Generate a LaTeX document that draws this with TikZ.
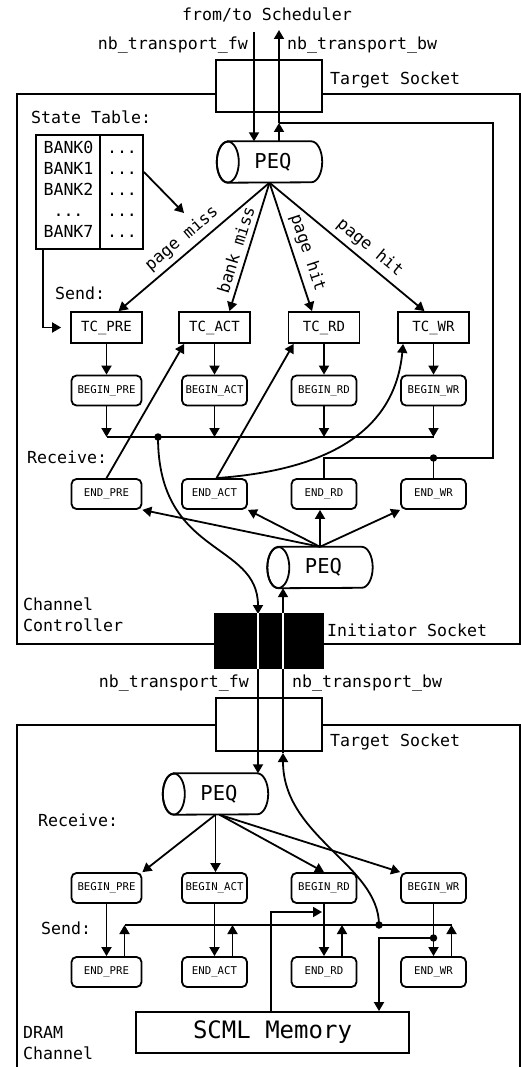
\documentclass[tikz,border=0pt]{standalone}
\usepackage{fontspec}
\setmainfont{DejaVu Sans Mono}
\usetikzlibrary{arrows.meta,calc}
\tikzset{
 ln/.style={line width=1.8pt},
 arr/.style={line width=1.8pt,-{Triangle[length=9pt,width=10pt]}},
 lbl/.style={inner sep=0pt,font=\fontsize{16.6}{21}\selectfont},
 tcbox/.style={draw,line width=1.8pt,minimum width=71pt,minimum height=31pt,inner sep=0pt,font=\fontsize{14}{16}\selectfont},
 evbox/.style={draw,line width=1.8pt,rounded corners=5pt,minimum width=65pt,minimum height=30pt,inner sep=0pt,font=\fontsize{10.7}{12}\selectfont},
 peqbox/.style={minimum width=105pt,minimum height=41pt,inner sep=0pt,font=\fontsize{20.5}{24}\selectfont},
 sockbox/.style={draw,line width=1.8pt,minimum width=106pt,minimum height=53pt,inner sep=0pt},
 dotn/.style={circle,fill,inner sep=0pt,minimum size=7.5pt},
}
\newcommand\peqshape[1]{%
 \draw[line width=1.8pt] ([xshift=11pt]#1.north west) -- ([xshift=-11pt]#1.north east)
   arc[start angle=90,end angle=-90,x radius=11pt,y radius=20.5pt]
   -- ([xshift=11pt]#1.south west)
   arc[start angle=270,end angle=90,x radius=11pt,y radius=20.5pt] -- cycle;
 \draw[line width=1.8pt] ([xshift=11pt]#1.west) ellipse[x radius=11pt,y radius=20.5pt];}
\begin{document}
\begin{tikzpicture}[x=1pt,y=-1pt,font=\fontsize{16.6}{21}\selectfont]
\useasboundingbox (0,0) rectangle (521,1067);

% ---------------- Channel Controller ----------------
\draw[ln] (17,94) rectangle (520,644);
\node[sockbox,fill=white,minimum height=52pt] (ts1) at (269,86) {};
\node[lbl,anchor=west] (ts1l) at (330,80) {Target Socket};
\node[lbl] (sched) at (267,15) {from/to Scheduler};
\node[lbl,anchor=east] (fw1l) at (248,45) {nb\_transport\_fw};
\node[lbl,anchor=west] (bw1l) at (287,45) {nb\_transport\_bw};

\node[peqbox] (peq1) at (269.5,162) {\hspace*{7pt}PEQ};
\peqshape{peq1}

% state table
\node[draw,ln,minimum width=107pt,minimum height=114pt,inner sep=0pt] (table) at (89.5,192) {};
\draw[ln] ([xshift=65pt]table.north west) -- ([xshift=65pt]table.south west);
\node[lbl,align=center] (banks) at (68.5,189) {BANK0\\BANK1\\BANK2\\...\\BANK7};
\node[lbl,align=center] (tdots) at (122,189) {\vphantom{B}...\\...\\...\\...\\...};
\node[lbl,anchor=west] (stl) at (31,117) {State Table:};
\coordinate (tabtip) at (184,213);
\draw[arr] ([yshift=20pt]table.east) -- (tabtip);

% TC commands
\node[tcbox] (tcpre) at (106.5,327.5) {TC\_PRE};
\node[tcbox] (tcact) at (214.5,327.5) {TC\_ACT};
\node[tcbox] (tcrd) at (324,327.5) {TC\_RD};
\node[tcbox] (tcwr) at (433.5,327.5) {TC\_WR};
\node[lbl,anchor=west] (send1) at (55,293) {Send:};
\draw[arr] ([xshift=-46.5pt]table.south) |- ([xshift=-9pt]tcpre.west);

\draw[arr] (peq1.south) -- node[lbl,sloped,above=5pt,pos=0.52] {page miss} ([xshift=12pt]tcpre.north);
\draw[arr] (peq1.south) -- node[lbl,sloped,above=5pt,pos=0.55] {bank miss} ([xshift=15pt]tcact.north);
\draw[arr] (peq1.south) -- node[lbl,sloped,above=5pt,pos=0.58] {page hit} ([xshift=-12pt]tcrd.north);
\draw[arr] (peq1.south) -- node[lbl,sloped,above=5pt,pos=0.59] {page hit} ([xshift=-9pt]tcwr.north);

% BEGIN phases
\node[evbox,minimum width=70pt] (bpre) at (106.5,390.5) {BEGIN\_PRE};
\node[evbox] (bact) at (214.5,390.5) {BEGIN\_ACT};
\node[evbox] (brd) at (324,390.5) {BEGIN\_RD};
\node[evbox] (bwr) at (433.5,390.5) {BEGIN\_WR};
\draw[arr] (tcpre) -- (bpre);
\draw[arr] (tcact) -- (bact);
\draw[arr] (tcrd) -- (brd);
\draw[arr] (tcwr) -- (bwr);

\coordinate (bus1L) at (106.5,437);
\coordinate (bus1R) at (433.5,437);
\draw[ln] (bus1L) -- (bus1R);
\draw[arr] (bpre) -- (bpre |- bus1L);
\draw[arr] (bact) -- (bact |- bus1L);
\draw[arr] (brd) -- (brd |- bus1L);
\draw[arr] (bwr) -- (bwr |- bus1L);
\node[dotn] (d1) at (158,437) {};

% END phases
\node[lbl,anchor=west] (recv1) at (27,457) {Receive:};
\node[evbox,minimum width=70pt] (epre) at (106.5,494) {END\_PRE};
\node[evbox] (eact) at (214.5,494) {END\_ACT};
\node[evbox] (erd) at (324,494) {END\_RD};
\node[evbox] (ewr) at (433.5,494) {END\_WR};

\draw[arr] (epre.north) -- ([xshift=6pt]tcact.south west);
\draw[arr] ([xshift=2pt]eact.north) -- ([xshift=6pt]tcrd.south west);
\draw[arr] ([xshift=2pt]eact.north) .. controls (330,470) and (395,430) .. ([xshift=6pt]tcwr.south west);

% backward path to scheduler
\coordinate (rt) at (493,458);
\coordinate (bwj) at (279,123);
\coordinate (bwtop) at (279,30);
\coordinate (fwtop) at (254,32);
\draw[ln] (erd.north) |- (rt) |- (bwj);
\draw[ln] (ewr.north) -- (ewr.north |- rt);
\node[dotn] (d2) at (ewr.north |- rt) {};
\draw[arr] (bwj |- peq1.north) -- (bwj);
\draw[arr] (bwj) -- (bwtop);
\draw[arr] (fwtop) -- (fwtop |- peq1.north);

% PEQ of the controller (responses)
\node[peqbox] (peq2) at (320,567.5) {\hspace*{7pt}PEQ};
\peqshape{peq2}
\draw[arr] (peq2.north) -- (epre.south east);
\draw[arr] (peq2.north) -- (eact.south east);
\draw[arr] (peq2.north) -- (peq2.north |- erd.south);
\draw[arr] (peq2.north) -- (ewr.south west);

\node[lbl,align=left,anchor=west] (ccl) at (23,615) {Channel\\Controller};

% ---------------- DRAM Channel ----------------
\draw[ln] (17,1067) -- (17,725) -- (520,725) -- (520,1067);
\node[sockbox,fill=white] (ts2) at (269,724.5) {};
\node[lbl,anchor=west] (ts2l) at (330,742) {Target Socket};
\node[lbl,anchor=east] (fw2l) at (249,683) {nb\_transport\_fw};
\node[lbl,anchor=west] (bw2l) at (292,683) {nb\_transport\_bw};

% initiator socket
\node[draw,ln,fill=black,minimum width=108pt,minimum height=54pt,inner sep=0pt] (isock) at (269,641) {};
\node[lbl,anchor=west] (isl) at (327,630) {Initiator Socket};

\node[peqbox] (peq3) at (215.5,794) {\hspace*{7pt}PEQ};
\peqshape{peq3}

\coordinate (fwi) at (258,614);
\coordinate (bwi) at (283,753);
\draw[arr] (d1.center) .. controls (158,557) and (258,541) .. (fwi);
\draw[arr] (fwi |- isock.south) -- (fwi |- peq3.north);
\draw[arr] (bwi) -- (bwi |- peq2.south);
\draw[ln,white] (fwi |- isock.north) -- (fwi |- isock.south);
\draw[ln,white] (bwi |- isock.north) -- (bwi |- isock.south);

\node[lbl,anchor=west] (recv2) at (38,820) {Receive:};
\node[evbox,minimum width=70pt] (bpre2) at (106.5,888) {BEGIN\_PRE};
\node[evbox] (bact2) at (214.5,888) {BEGIN\_ACT};
\node[evbox] (brd2) at (324,888) {BEGIN\_RD};
\node[evbox] (bwr2) at (433.5,888) {BEGIN\_WR};
\draw[arr] (peq3.south) -- (bpre2.north east);
\draw[arr] (peq3.south) -- (peq3.south |- bact2.north);
\draw[arr] ([xshift=4pt]peq3.south) -- (brd2.north);
\draw[arr] ([xshift=4pt]peq3.south) -- (bwr2.north west);

\node[lbl,anchor=west] (send2) at (41,928) {Send:};
\node[evbox,minimum width=70pt] (epre2) at (106.5,972) {END\_PRE};
\node[evbox] (eact2) at (214.5,972) {END\_ACT};
\node[evbox] (erd2) at (324,972) {END\_RD};
\node[evbox] (ewr2) at (433.5,972) {END\_WR};
\draw[arr] (bpre2) -- (epre2);
\draw[arr] (bact2) -- (eact2);
\draw[arr] (brd2) -- (erd2);
\draw[arr] (bwr2) -- (ewr2);

\coordinate (bus2L) at (124.5,925);
\coordinate (bus2R) at (451.5,925);
\draw[ln] (bus2L) -- (bus2R);
\draw[arr] ([xshift=18pt]epre2.north) -- ([xshift=18pt]epre2.north |- bus2L);
\draw[arr] ([xshift=18pt]eact2.north) -- ([xshift=18pt]eact2.north |- bus2L);
\draw[arr] ([xshift=18pt]erd2.north) -- ([xshift=18pt]erd2.north |- bus2L);
\draw[arr] ([xshift=18pt]ewr2.north) -- ([xshift=18pt]ewr2.north |- bus2L);
\node[dotn] (d3) at (379,925) {};
\draw[arr] (d3.center) .. controls (379,865) and (283,837) .. (bwi);

% memory
\node[draw,ln,minimum width=273pt,minimum height=41pt,inner sep=0pt,font=\fontsize{24}{28}\selectfont] (scml) at (272.5,1032.5) {SCML Memory};
\coordinate (memw) at (322,912);
\draw[arr] ([xshift=-1.5pt]scml.north) |- (memw);
\coordinate (wrdot) at (433.5,938);
\coordinate (memrx) at (379,0);
\draw[arr] (wrdot) -| (scml.north -| memrx);
\node[dotn] (d4) at (wrdot) {};

\node[lbl,align=left,anchor=west] (dcl) at (23,1043.5) {DRAM\\Channel};
\end{tikzpicture}
\end{document}
